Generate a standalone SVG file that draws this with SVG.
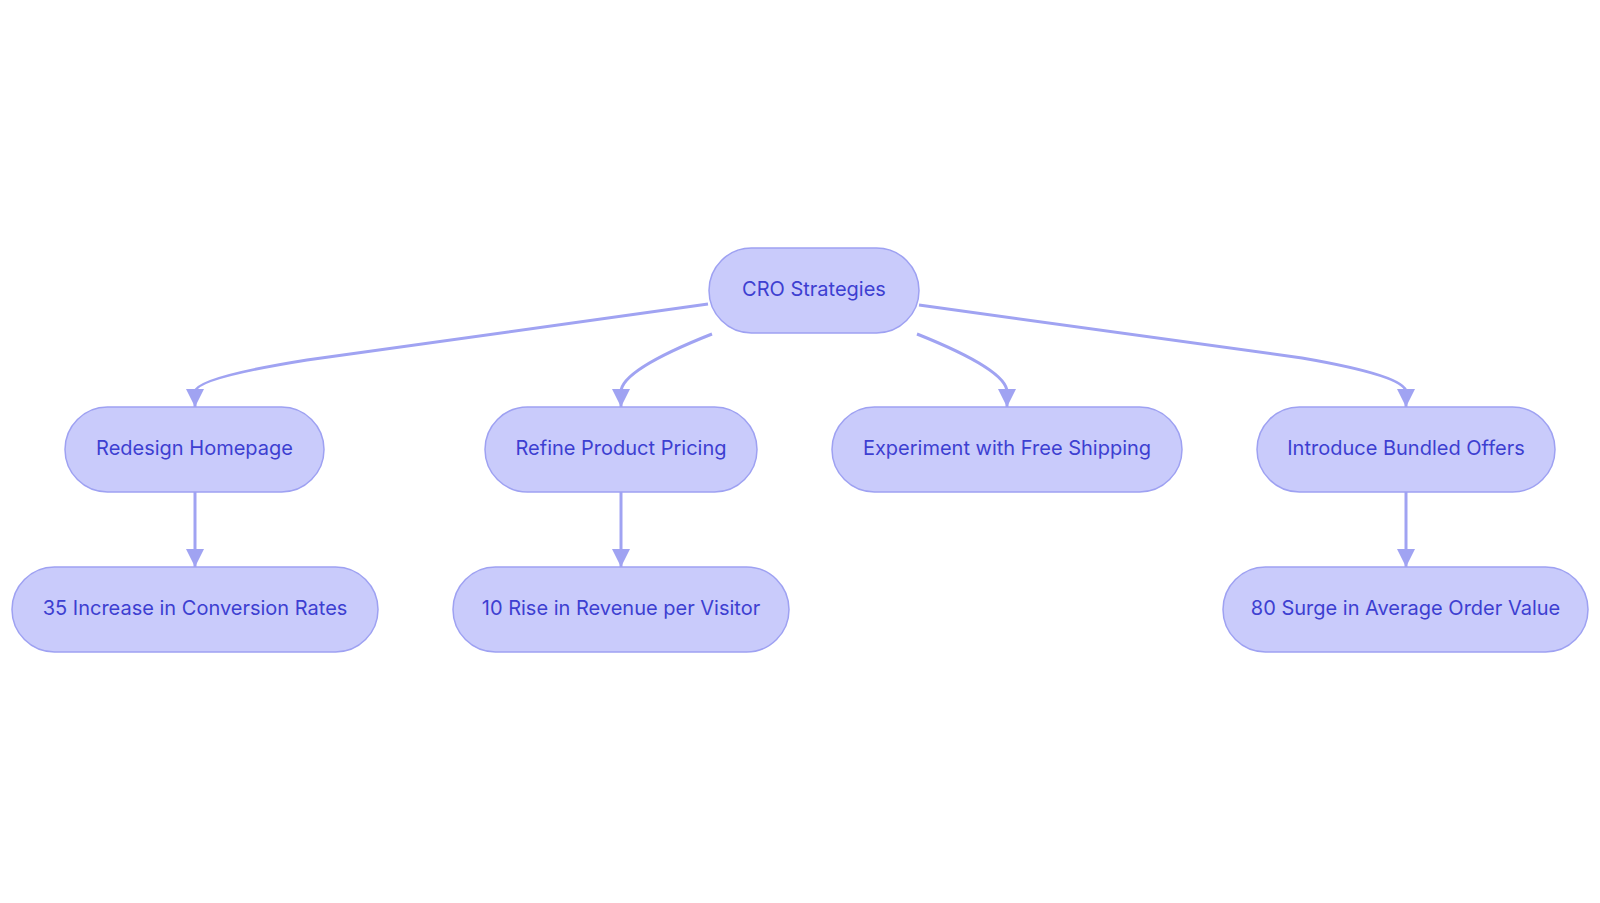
<svg xmlns="http://www.w3.org/2000/svg" width="1600" height="903" viewBox="0 0 1600 903">
<defs>
<style>
.node rect{fill:#c9cbfb;stroke:#9ea1f2;stroke-width:1.5}
.node text{font-family:Inter,"Open Sans","Liberation Sans",sans-serif;font-size:20px;fill:#3d3fd1;text-anchor:middle;dominant-baseline:central}
.edge{fill:none;stroke:#a0a3f2;stroke-width:3}
</style>
<marker id="arr" viewBox="0 0 10 10" refX="10" refY="5" markerWidth="6" markerHeight="6" markerUnits="strokeWidth" orient="auto">
<path d="M0,0 L10,5 L0,10 z" fill="#a0a3f2"/>
</marker>
</defs>
<rect width="1600" height="903" fill="#ffffff"/>
<g id="connectors">
<path class="edge" d="M708,304 L307,360 Q195,378 195,392 L195,407" marker-end="url(#arr)"/>
<path class="edge" d="M712,334 Q621,370 621,392 L621,407" marker-end="url(#arr)"/>
<path class="edge" d="M917,334 Q1007,370 1007,392 L1007,407" marker-end="url(#arr)"/>
<path class="edge" d="M919,305 L1302,358 Q1406,376 1406,392 L1406,407" marker-end="url(#arr)"/>
<path class="edge" d="M195,492 L195,567" marker-end="url(#arr)"/>
<path class="edge" d="M621,492 L621,567" marker-end="url(#arr)"/>
<path class="edge" d="M1406,492 L1406,567" marker-end="url(#arr)"/>
</g>
<g id="root" class="node"><rect x="709" y="248" width="210" height="85" rx="42.5"/><text x="814" y="289">CRO Strategies</text></g>
<g id="redesign" class="node"><rect x="65" y="407" width="259" height="85" rx="42.5"/><text x="194.5" y="448">Redesign Homepage</text></g>
<g id="pricing" class="node"><rect x="485" y="407" width="272" height="85" rx="42.5"/><text x="621" y="448">Refine Product Pricing</text></g>
<g id="shipping" class="node"><rect x="832" y="407" width="350" height="85" rx="42.5"/><text x="1007" y="448">Experiment with Free Shipping</text></g>
<g id="bundled" class="node"><rect x="1257" y="407" width="298" height="85" rx="42.5"/><text x="1406" y="448">Introduce Bundled Offers</text></g>
<g id="conversion" class="node"><rect x="12" y="567" width="366" height="85" rx="42.5"/><text x="195" y="608">35 Increase in Conversion Rates</text></g>
<g id="revenue" class="node"><rect x="453" y="567" width="336" height="85" rx="42.5"/><text x="621" y="608">10 Rise in Revenue per Visitor</text></g>
<g id="aov" class="node"><rect x="1223" y="567" width="365" height="85" rx="42.5"/><text x="1405.5" y="608">80 Surge in Average Order Value</text></g>
</svg>
